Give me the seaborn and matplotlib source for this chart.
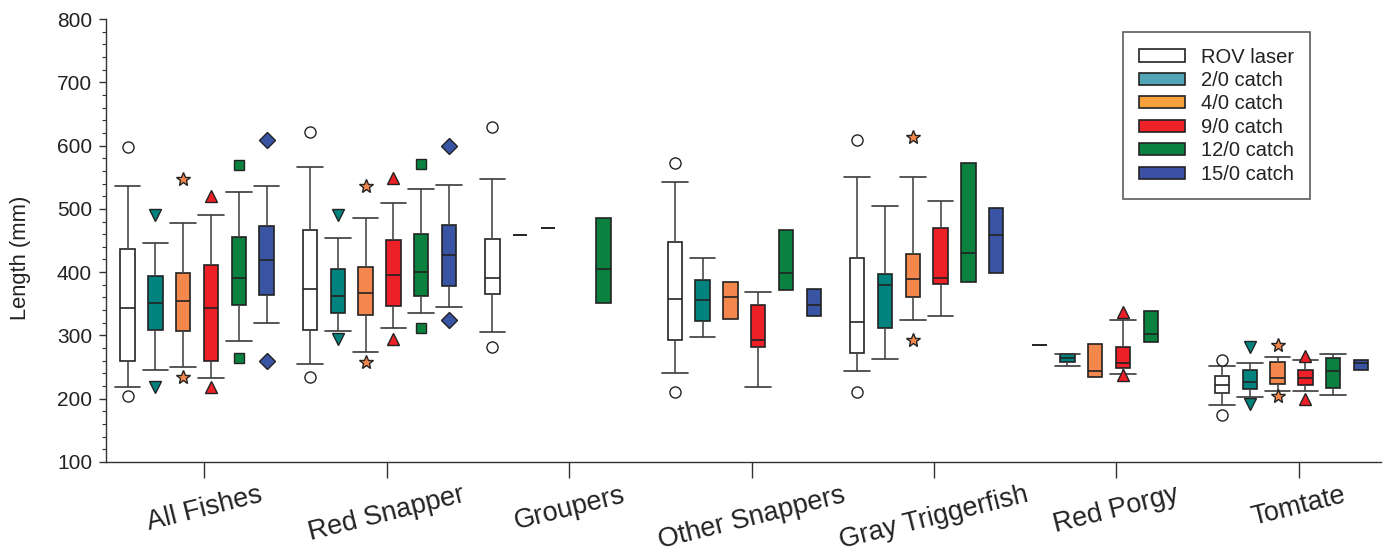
import numpy as np
import pandas as pd
import matplotlib
matplotlib.use("Agg")
import matplotlib.pyplot as plt
import seaborn as sns
from matplotlib.patches import Patch
from matplotlib.ticker import MultipleLocator

species = ["All Fishes", "Red Snapper", "Groupers", "Other Snappers",
           "Gray Triggerfish", "Red Porgy", "Tomtate"]
methods = ["ROV laser", "2/0 catch", "4/0 catch", "9/0 catch",
           "12/0 catch", "15/0 catch"]

N = None
# rows: species, columns: methods  (length, mm)
whisker_low = [
    [218, 245, 250, 232, 291, 320],
    [255, 307, 274, 312, 335, 345],
    [305, N, N, N, N, N],
    [241, 298, N, 219, N, N],
    [244, 262, 324, 331, N, N],
    [N, 251, N, 239, N, N],
    [190, 203, 212, 212, 206, N],
]
q1 = [
    [260, 309, 307, 260, 348, 364],
    [309, 335, 333, 346, 362, 378],
    [365, 458, 470, N, 351, N],
    [293, 322, 326, 281, 371, 330],
    [272, 312, 361, 382, 384, 399],
    [285, 258, 235, 249, 290, N],
    [209, 216, 224, 221, 217, 246],
]
median = [
    [344, 352, 355, 343, 390, 419],
    [373, 363, 367, 395, 401, 427],
    [390, 458, 470, N, 405, N],
    [358, 356, 361, 293, 398, 348],
    [321, 380, 389, 390, 431, 458],
    [285, 264, 244, 257, 302, N],
    [221, 227, 233, 232, 244, 257],
]
q3 = [
    [436, 394, 399, 412, 455, 473],
    [466, 405, 408, 450, 460, 475],
    [452, 458, 470, N, 486, N],
    [447, 388, 384, 348, 467, 374],
    [422, 397, 428, 469, 572, 501],
    [285, 270, 286, 282, 339, N],
    [236, 245, 258, 245, 264, 261],
]
whisker_high = [
    [536, 446, 478, 491, 526, 536],
    [566, 454, 486, 509, 532, 537],
    [547, N, N, N, N, N],
    [542, 422, N, 369, N, N],
    [550, 505, 550, 513, N, N],
    [N, 271, N, 324, N, N],
    [252, 256, 266, 261, 271, N],
]
outlier_low = [
    [205, 219, 235, 219, 264, 259],
    [235, 295, 258, 295, 312, 325],
    [281, N, N, N, N, N],
    [211, N, N, N, N, N],
    [210, N, 293, N, N, N],
    [N, N, N, 237, N, N],
    [175, 192, 205, 200, N, N],
]
outlier_high = [
    [598, 490, 547, 521, 569, 609],
    [621, 490, 536, 548, 571, 600],
    [630, N, N, N, N, N],
    [572, N, N, N, N, N],
    [609, N, 613, N, N, N],
    [N, N, N, 337, N, N],
    [261, 282, 285, 267, N, N],
]

box_colors = ["#ffffff", "#00837f", "#f4874b", "#ed2027", "#0b8140", "#3a54a4"]
legend_colors = ["#ffffff", "#52a5b5", "#f7a13c", "#ee2229", "#0b8140", "#3c51a3"]
markers = ["o", "v", "*", "^", "s", "D"]
marker_sizes = [8, 9, 10, 9, 7.5, 8]

# Build a long table whose percentiles reproduce each box's summary
rows = []
for i, sp in enumerate(species):
    for j, m in enumerate(methods):
        if median[i][j] is None:
            continue
        a, b, c = q1[i][j], median[i][j], q3[i][j]
        has_wh = whisker_low[i][j] is not None
        wl = whisker_low[i][j] if has_wh else a
        wh = whisker_high[i][j] if has_wh else c
        ol = outlier_low[i][j] if outlier_low[i][j] is not None else wl
        oh = outlier_high[i][j] if outlier_high[i][j] is not None else wh
        for v in [ol, wl, a, a, b, c, c, wh, oh]:
            rows.append((sp, m, v, has_wh))
df = pd.DataFrame(rows, columns=["species", "method", "length", "whiskers"])

sns.set_style("ticks")
plt.rcParams["font.family"] = ["Liberation Sans", "DejaVu Sans"]

fig = plt.figure(figsize=(13.85, 5.53), dpi=100)
ax = fig.add_axes([0.0765, 0.1646, 0.9205, 0.801])

palette = dict(zip(methods, box_colors))
for j, m in enumerate(methods):
    for has_wh in (True, False):
        sub = df[(df["method"] == m) & (df["whiskers"] == has_wh)]
        if sub.empty:
            continue
        extra = {"capwidths": 0.14} if has_wh else {}
        sns.boxplot(
            data=sub, x="species", y="length", hue="method",
            order=species, hue_order=methods, palette=palette,
            saturation=1, width=0.915, gap=0.48, dodge=True,
            whis=(12.5, 87.5), linecolor="#222222", linewidth=1.2,
            showcaps=has_wh,
            whiskerprops={"color": "#4a4a4a"},
            capprops={"color": "#3a3a3a"},
            flierprops={"marker": markers[j],
                        "markerfacecolor": box_colors[j],
                        "markeredgecolor": "#222222",
                        "markeredgewidth": 1.0,
                        "markersize": marker_sizes[j]},
            legend=False, ax=ax, **extra,
        )

ax.set_xlim(-0.5, 6.49)
ax.set_ylim(100, 800)
ax.yaxis.set_major_locator(MultipleLocator(100))
ax.yaxis.set_minor_locator(MultipleLocator(20))
ax.set_xticks(np.arange(len(species)) + 0.04)
ax.set_xticklabels(species, rotation=14, ha="center", fontsize=19.5, color="#222222")
ax.tick_params(axis="x", direction="out", length=11.5, width=1.0,
               color="#333333", pad=3)
ax.tick_params(axis="y", which="major", direction="out", length=5, width=1.0,
               color="#333333", labelsize=15, labelcolor="#222222", pad=5)
ax.tick_params(axis="y", which="minor", direction="out", length=3, width=0.8,
               color="#333333")
ax.set_xlabel("")
ax.set_ylabel("Length (mm)", fontsize=15.8, color="#222222")
ax.yaxis.set_label_coords(-0.059, 0.46)

sns.despine(ax=ax)
for s in ("left", "bottom"):
    ax.spines[s].set_color("#333333")
    ax.spines[s].set_linewidth(1.0)

handles = [Patch(facecolor=c, edgecolor="#222222", linewidth=1.2, label=m)
           for m, c in zip(methods, legend_colors)]
leg = ax.legend(handles=handles, loc="upper left", bbox_to_anchor=(0.798, 0.971),
                fontsize=14.5, frameon=True, fancybox=False, edgecolor="#333333",
                handlelength=2.3, handleheight=0.55, handletextpad=0.8,
                borderpad=0.78, labelspacing=0.22, borderaxespad=0)
leg.get_frame().set_linewidth(1.2)
for t in leg.get_texts():
    t.set_color("#222222")

fig.savefig("out.png", dpi=100)
